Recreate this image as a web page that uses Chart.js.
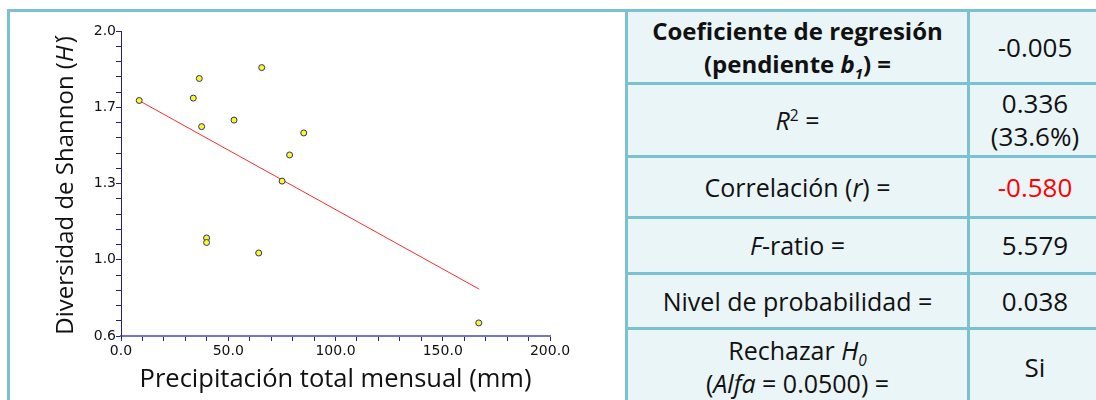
<!DOCTYPE html>
<html>
<head>
<meta charset="utf-8">
<script src="https://cdn.jsdelivr.net/npm/chart.js@4.4.1/dist/chart.umd.min.js"></script>
<style>
  html, body { margin: 0; padding: 0; background: #fff; width: 1096px; height: 400px; overflow: hidden; }
  #plotBox { position: absolute; left: 7px; top: 9px; width: 621px; height: 420px; box-sizing: border-box; border: 3px solid #7bc1d1; }
  #chart { position: absolute; left: 0; top: 0; }
  #stats {
    position: absolute; left: 625px; top: 9px;
    display: grid; grid-template-columns: 339px 130px; grid-template-rows: 70px 70px 58px 53px 52px 74px;
    gap: 3px; padding: 3px; background: #7bc1d1;
    font-family: "Open Sans", sans-serif; font-size: 25px; color: #111;
  }
  #stats div { background: #eaf5f8; display: flex; align-items: center; justify-content: center; text-align: center; line-height: 33px; }
  #stats div.val { font-size: 26px; }
  #stats div.head { font-size: 24px; }
  sub, sup { font-size: 0.62em; line-height: 0; }
</style>
</head>
<body>
<div id="plotBox"></div>
<canvas id="chart" width="625" height="400"></canvas>
<div id="stats">
  <div class="head"><b>Coeficiente de regresión<br>(pendiente <i>b<sub>1</sub></i>) =</b></div>
  <div class="val">-0.005</div>
  <div><span><i>R</i><sup>2</sup> =</span></div>
  <div class="val">0.336<br>(33.6%)</div>
  <div><span>Correlación (<i>r</i>) =</span></div>
  <div class="val" style="color:#ff0000">-0.580</div>
  <div><span><i>F</i>-ratio =</span></div>
  <div class="val">5.579</div>
  <div>Nivel de probabilidad =</div>
  <div class="val">0.038</div>
  <div><span>Rechazar <i>H<sub>0</sub></i><br>(<i>Alfa</i> = 0.0500) =</span></div>
  <div class="val">Si</div>
</div>
<script>
// monthly precipitation (mm) vs Shannon diversity
const precip    = [8.5, 36.5, 33.7, 65.6, 37.6, 52.7, 85.2, 78.6, 75.1, 39.9, 39.9, 64.2, 166.8]
const diversity = [1.681, 1.782, 1.692, 1.832, 1.561, 1.591, 1.532, 1.431, 1.311, 1.050, 1.029, 0.981, 0.660]

// fitted regression line end points
const fitX = [8.5, 167.0]
const fitY = [1.68, 0.815]

const xTickLabels = ["0.0", "50.0", "100.0", "150.0", "200.0"]
const yTickLabels = ["0.6", "1.0", "1.3", "1.7", "2.0"]

const navy = "#20208c"
const textColor = "#111111"
const tickFont = { family: "DejaVu Sans", size: 14 }

// minor tick every 1/20 of the range, label on every 5th
const makeTicks = (min, max) => {
  const out = []
  for (let i = 0; i <= 20; i++) out.push({ value: min + (max - min) * i / 20 })
  return out
}

const yTitlePlugin = {
  id: "yTitle",
  afterDraw(chart) {
    const ctx = chart.ctx
    const area = chart.chartArea
    const runs = [["Diversidad de Shannon (", ""], ["H\u200A´", "italic "], [")", ""]]
    const fontOf = (style) => style + '24px "Open Sans"'
    ctx.save()
    ctx.translate(66, (area.top + area.bottom) / 2 + 2)
    ctx.rotate(-Math.PI / 2)
    ctx.fillStyle = textColor
    ctx.textBaseline = "middle"
    ctx.textAlign = "left"
    let total = 0
    runs.forEach((r) => { ctx.font = fontOf(r[1]); total += ctx.measureText(r[0]).width })
    let x = -total / 2
    runs.forEach((r) => {
      ctx.font = fontOf(r[1])
      ctx.fillText(r[0], x, 0)
      x += ctx.measureText(r[0]).width
    })
    ctx.restore()
  }
}

new Chart(document.getElementById("chart"), {
  type: "scatter",
  data: {
    datasets: [
      {
        label: "Observaciones",
        data: precip.map((p, i) => ({ x: p, y: diversity[i] })),
        backgroundColor: "#ffff00",
        borderColor: "#2a2aa0",
        borderWidth: 1,
        pointRadius: 3,
        order: 1,
      },
      {
        label: "Regresión",
        type: "line",
        data: fitX.map((x, i) => ({ x: x, y: fitY[i] })),
        borderColor: "#ff2a2a",
        borderWidth: 1,
        pointRadius: 0,
        fill: false,
        order: 2,
      },
    ],
  },
  options: {
    responsive: false,
    animation: false,
    devicePixelRatio: 1,
    layout: { padding: { left: 0, top: 31, right: 75, bottom: 0 } },
    plugins: { legend: { display: false }, tooltip: { enabled: false } },
    scales: {
      x: {
        type: "linear",
        min: 0,
        max: 200,
        afterBuildTicks: (scale) => { scale.ticks = makeTicks(0, 200) },
        afterFit: (scale) => { scale.height = 64 },
        ticks: {
          autoSkip: false,
          maxRotation: 0,
          padding: 2,
          color: textColor,
          font: tickFont,
          callback: (v, i) => (i % 5 === 0 ? xTickLabels[i / 5] : ""),
        },
        grid: { drawOnChartArea: false, drawTicks: true, tickLength: 5, color: navy },
        border: { color: "#7676c8", width: 2 },
        title: {
          display: true,
          text: "Precipitación total mensual (mm)",
          color: textColor,
          font: { family: "Open Sans", size: 25.5 },
          padding: { top: 0, bottom: 5 },
        },
      },
      y: {
        type: "linear",
        min: 0.6,
        max: 2.0,
        afterBuildTicks: (scale) => { scale.ticks = makeTicks(0.6, 2.0) },
        afterFit: (scale) => { scale.width = 121 },
        ticks: {
          autoSkip: false,
          padding: 0,
          color: textColor,
          font: tickFont,
          callback: (v, i) => (i % 5 === 0 ? yTickLabels[i / 5] : ""),
        },
        grid: { drawOnChartArea: false, drawTicks: true, tickLength: 5, color: navy },
        border: { color: navy, width: 1 },
      },
    },
  },
  plugins: [yTitlePlugin],
})
</script>
</body>
</html>
